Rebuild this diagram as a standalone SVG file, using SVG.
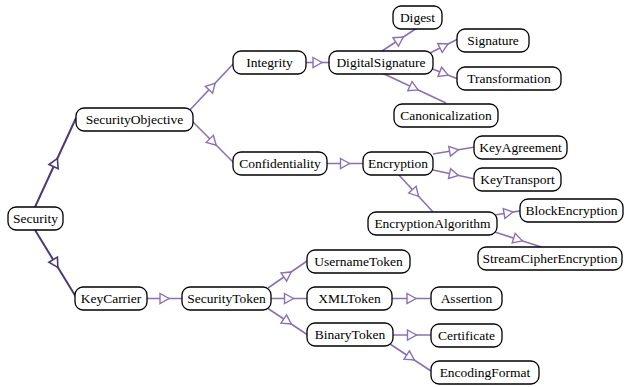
<svg xmlns="http://www.w3.org/2000/svg" width="625" height="387" viewBox="0 0 625 387">
<defs>
<marker id="triL" markerUnits="userSpaceOnUse" markerWidth="14" markerHeight="14" viewBox="-7 -7 14 14" refX="0" refY="0" orient="auto">
<path d="M-4.5,-5 L4.5,0 L-4.5,5 Z" fill="#fff" stroke="#8a70b6" stroke-width="1.4" stroke-linejoin="miter"/>
</marker>
<marker id="triD" markerUnits="userSpaceOnUse" markerWidth="14" markerHeight="14" viewBox="-7 -7 14 14" refX="0" refY="0" orient="auto">
<path d="M-4.5,-5 L4.5,0 L-4.5,5 Z" fill="#fff" stroke="#4d3a73" stroke-width="1.6" stroke-linejoin="miter"/>
</marker>
</defs>
<style>
.n rect{fill:#fff;stroke:#000;stroke-width:1.3}
.n text{font-size:13.5px;fill:#000;text-anchor:middle}
.e polyline{fill:none}
.l{stroke:#8a70b6;stroke-width:1.6;marker-mid:url(#triL)}
.d{stroke:#4d3a73;stroke-width:2;marker-mid:url(#triD)}
</style>
<rect width="625" height="387" fill="#fff"/>
<g id="edges" class="e">
<polyline class="d" points="35,207 55.5,162.5 76,118"/>
<polyline class="d" points="35,230 55.5,263.5 76,297"/>
<polyline class="l" points="189,111 212,86.5 235,62"/>
<polyline class="l" points="191,120 213,142 235,164"/>
<polyline class="l" points="306,62.5 317.5,62.5 329,62.5"/>
<polyline class="l" points="382,51 399.5,39.5 417,28"/>
<polyline class="l" points="430,53 444,46 458,39"/>
<polyline class="l" points="430,68 444,73.5 458,79"/>
<polyline class="l" points="382,73 414,88 446,103"/>
<polyline class="l" points="327,163.5 345,163.5 363,163.5"/>
<polyline class="l" points="433,154 454,150.5 475,147"/>
<polyline class="l" points="433,170 454,174.5 475,179"/>
<polyline class="l" points="398,174 415.5,193 433,212"/>
<polyline class="l" points="495,215 508.5,212.8 522,210.6"/>
<polyline class="l" points="493,231.5 518,239.5 543,247.5"/>
<polyline class="l" points="147,298.5 164.5,298.5 182,298.5"/>
<polyline class="l" points="268,288 287.5,274.5 307,261"/>
<polyline class="l" points="271,298.5 289,298.5 307,298.5"/>
<polyline class="l" points="268,308.5 287.5,321.5 307,334.5"/>
<polyline class="l" points="392,298.5 411.5,298.5 431,298.5"/>
<polyline class="l" points="393,335 412,335 431,335"/>
<polyline class="l" points="390,344 410.5,357.5 431,371"/>
</g>
<g font-family="Liberation Serif, Times New Roman, serif">
<g id="Security" class="n"><rect x="8" y="207" width="55" height="23" rx="8"/><text x="35.5" y="223">Security</text></g>
<g id="SecurityObjective" class="n"><rect x="76" y="108" width="117" height="23" rx="8"/><text x="134.5" y="124">SecurityObjective</text></g>
<g id="KeyCarrier" class="n"><rect x="75" y="287" width="72" height="23" rx="8"/><text x="111" y="303">KeyCarrier</text></g>
<g id="SecurityToken" class="n"><rect x="182" y="287" width="89" height="23" rx="8"/><text x="226.5" y="303">SecurityToken</text></g>
<g id="UsernameToken" class="n"><rect x="307" y="250" width="103" height="23" rx="8"/><text x="358.5" y="266">UsernameToken</text></g>
<g id="XMLToken" class="n"><rect x="307" y="287" width="85" height="23" rx="8"/><text x="349.5" y="303">XMLToken</text></g>
<g id="Assertion" class="n"><rect x="431" y="287" width="71" height="23" rx="8"/><text x="466.5" y="303">Assertion</text></g>
<g id="BinaryToken" class="n"><rect x="307" y="323" width="86" height="23" rx="8"/><text x="350" y="339">BinaryToken</text></g>
<g id="Certificate" class="n"><rect x="431" y="324" width="71" height="23" rx="8"/><text x="466.5" y="340">Certificate</text></g>
<g id="EncodingFormat" class="n"><rect x="431" y="361" width="108" height="23" rx="8"/><text x="485" y="377">EncodingFormat</text></g>
<g id="Integrity" class="n"><rect x="233" y="51" width="73" height="23" rx="8"/><text x="269.5" y="67">Integrity</text></g>
<g id="DigitalSignature" class="n"><rect x="329" y="51" width="104" height="23" rx="8"/><text x="381" y="67">DigitalSignature</text></g>
<g id="Digest" class="n"><rect x="393" y="6" width="49" height="23" rx="8"/><text x="417.5" y="22">Digest</text></g>
<g id="Signature" class="n"><rect x="457" y="29" width="72" height="23" rx="8"/><text x="493" y="45">Signature</text></g>
<g id="Transformation" class="n"><rect x="457" y="67" width="104" height="23" rx="8"/><text x="509" y="83">Transformation</text></g>
<g id="Canonicalization" class="n"><rect x="394" y="104" width="104" height="23" rx="8"/><text x="446" y="120">Canonicalization</text></g>
<g id="Confidentiality" class="n"><rect x="233" y="152" width="94" height="23" rx="8"/><text x="280" y="168">Confidentiality</text></g>
<g id="Encryption" class="n"><rect x="363" y="152" width="70" height="23" rx="8"/><text x="398" y="168">Encryption</text></g>
<g id="KeyAgreement" class="n"><rect x="474" y="136" width="93" height="23" rx="8"/><text x="520.5" y="152">KeyAgreement</text></g>
<g id="KeyTransport" class="n"><rect x="474" y="168" width="87" height="23" rx="8"/><text x="517.5" y="184">KeyTransport</text></g>
<g id="EncryptionAlgorithm" class="n"><rect x="368" y="212" width="129" height="23" rx="8"/><text x="432.5" y="228">EncryptionAlgorithm</text></g>
<g id="BlockEncryption" class="n"><rect x="520" y="199" width="103" height="23" rx="8"/><text x="571.5" y="215">BlockEncryption</text></g>
<g id="StreamCipherEncryption" class="n"><rect x="478" y="247" width="144" height="23" rx="8"/><text x="550" y="263">StreamCipherEncryption</text></g>
</g>
</svg>
